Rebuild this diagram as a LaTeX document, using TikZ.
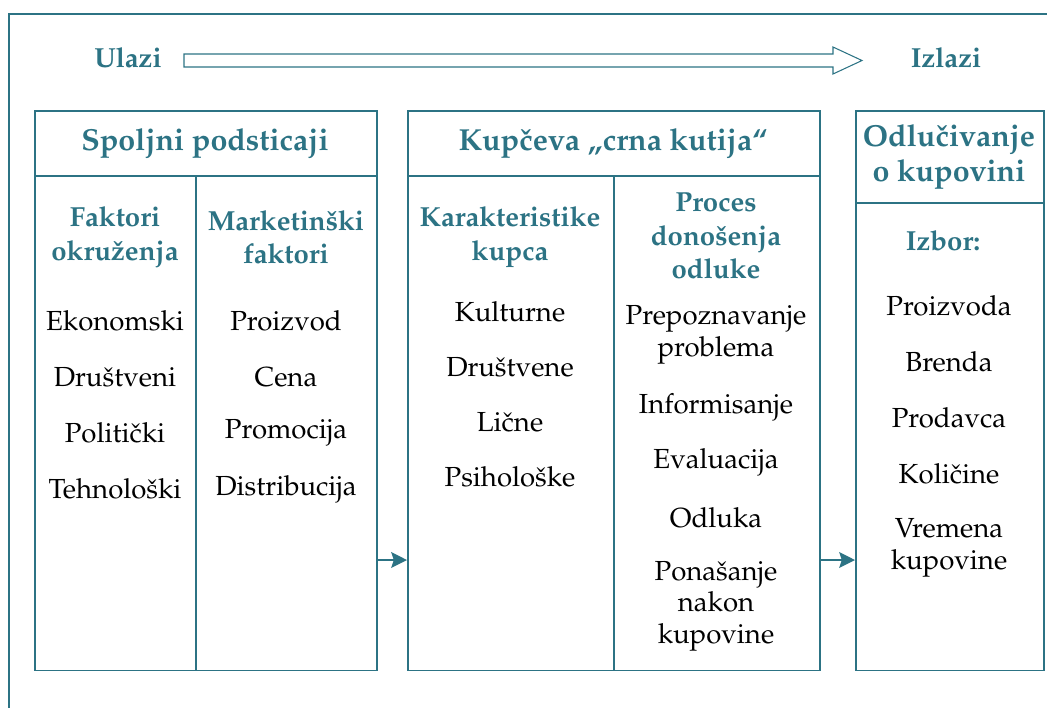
\documentclass[tikz,border=0pt]{standalone}
\usepackage[T1]{fontenc}
\usepackage{mathpazo}
\usepackage{tikz}
\usetikzlibrary{arrows.meta}
\usetikzlibrary{positioning}
\definecolor{tealdark}{HTML}{2C7384}

\tikzset{
  box/.style={draw=tealdark, line width=0.9pt, inner sep=0pt, anchor=north west, minimum height=11.2cm},
  rule/.style={draw=tealdark, line width=0.9pt},
  head/.style={text=tealdark, font=\fontsize{17.3}{19.5}\selectfont\bfseries, align=center, inner sep=0.5pt},
  sub/.style={text=tealdark, font=\fontsize{15.7}{19}\selectfont\bfseries, align=center, inner sep=0.5pt},
  item/.style={font=\fontsize{15.7}{18}\selectfont, align=center, inner sep=0.5pt},
  flow/.style={draw=tealdark, line width=0.9pt, -{Stealth[length=9pt,width=9pt,inset=1.5pt]}},
}

\begin{document}
\begin{tikzpicture}[x=0.02cm, y=-0.02cm]
    \useasboundingbox (0,0) rectangle (1047,708);
    \draw[rule, line width=0.7pt] (1047,14) -- (9,14) -- (9,708);

    % ulazi / izlazi
    \node[sub] (ulazi) at (128,58) {Ulazi};
    \node[sub] (izlazi) at (946,58) {Izlazi};
    \draw[draw=tealdark, line width=0.6pt] (184,54) -- (833,54) -- (833,47) -- (862,60.5)
        -- (833,74) -- (833,67) -- (184,67) -- cycle;

    % boxes
    \node[box, minimum width=6.84cm] (spolj) at (34,110) {};
    \node[box, minimum width=8.24cm] (kutija) at (407,110) {};
    \node[box, minimum width=3.76cm] (izbor) at (855,110) {};
    \draw[rule] (34,176) -- (376,176);
    \draw[rule] (196,176) -- (196,670);
    \draw[rule] (407,176) -- (819,176);
    \draw[rule] (614,176) -- (614,670);
    \draw[rule] (855,203) -- (1043,203);

    \coordinate (lvl) at (0,560);
    \draw[flow] (spolj.east |- lvl) -- (kutija.west |- lvl);
    \draw[flow] (kutija.east |- lvl) -- (izbor.west |- lvl);

    % spoljni podsticaji
    \node[head] (h1) at (205,143) {Spoljni podsticaji};
    \node[sub] (okr) at (115,237) {Faktori\\okru\v{z}enja};
    \node[sub] (mkt) at (286,237) {Marketin\v{s}ki\\faktori};
    \node[item] (e1) at (115,321) {Ekonomski};
    \node[item] (e2) at (115,377) {Dru\v{s}tveni};
    \node[item] (e3) at (115,433) {Politi\v{c}ki};
    \node[item] (e4) at (115,489) {Tehnolo\v{s}ki};
    \node[item] (m1) at (286,321) {Proizvod};
    \node[item] (m2) at (286,377) {Cena};
    \node[item] (m3) at (286,433) {Promocija};
    \node[item] (m4) at (286,489) {Distribucija};

    % crna kutija
    \node[head] (h2) at (613,143) {Kup\v{c}eva \quotedblbase crna kutija``};
    \node[sub] (kar) at (510,237) {Karakteristike\\kupca};
    \node[sub] (proc) at (716,236) {Proces\\dono\v{s}enja\\odluke};
    \node[item] (k1) at (510,312) {Kulturne};
    \node[item] (k2) at (510,367) {Dru\v{s}tvene};
    \node[item] (k3) at (510,422) {Li\v{c}ne};
    \node[item] (k4) at (510,477) {Psiholo\v{s}ke};
    \node[item] (p1) at (716,335) {Prepoznavanje\\problema};
    \node[item] (p2) at (716,407) {Informisanje};
    \node[item] (p3) at (716,462) {Evaluacija};
    \node[item] (p4) at (716,518) {Odluka};
    \node[item] (p5) at (716,606) {Pona\v{s}anje\\nakon\\kupovine};

    % odlucivanje
    \node[head] (h3) at (949,157) {Odlu\v{c}ivanje\\o kupovini};
    \node[sub] (izb) at (943,241) {Izbor:};
    \node[item] (o1) at (949,306) {Proizvoda};
    \node[item] (o2) at (949,362) {Brenda};
    \node[item] (o3) at (949,418) {Prodavca};
    \node[item] (o4) at (949,474) {Koli\v{c}ine};
    \node[item] (o5) at (949,548) {Vremena\\kupovine};
\end{tikzpicture}
\end{document}
